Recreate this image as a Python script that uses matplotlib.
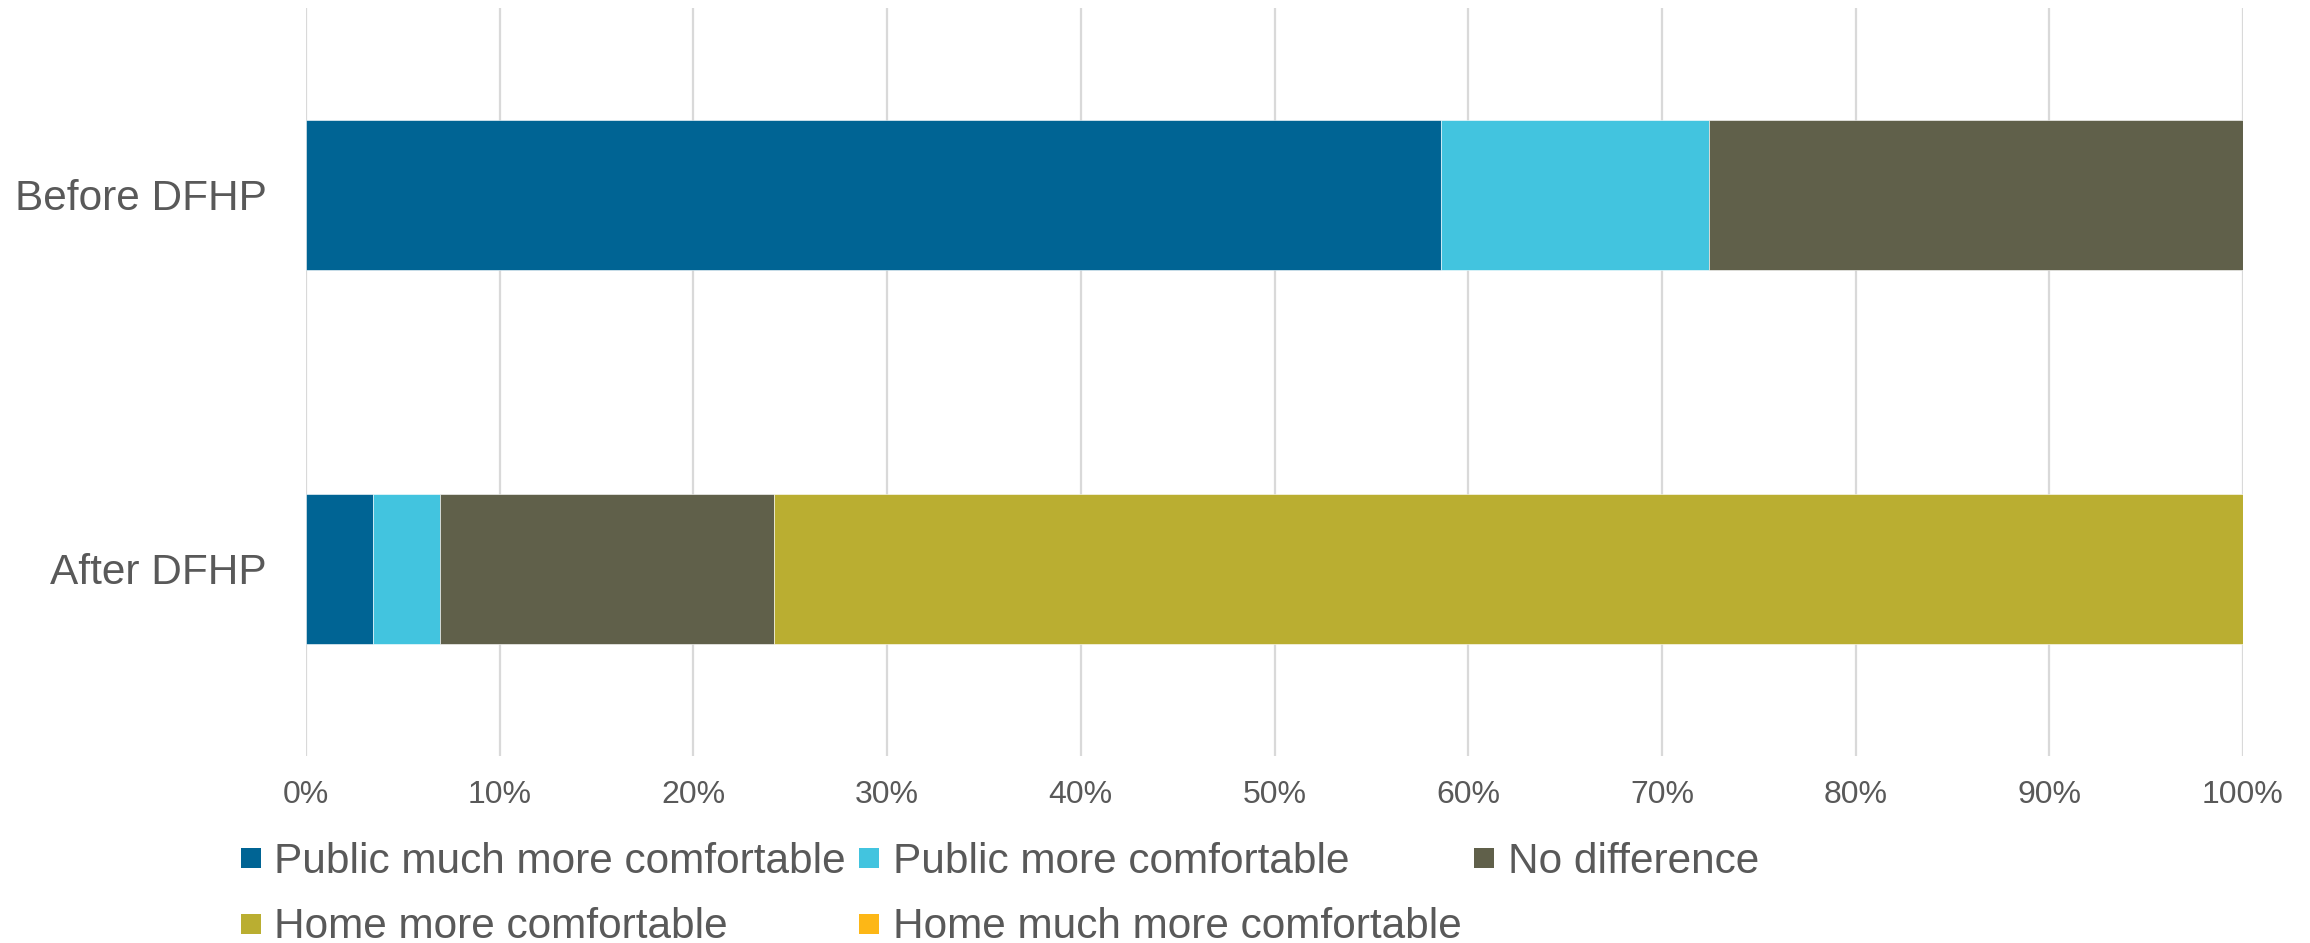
import matplotlib
matplotlib.use("Agg")
import matplotlib.pyplot as plt
from matplotlib.lines import Line2D

# share of respondents (n = 29), in %
categories = ["Before DFHP", "After DFHP"]
series_names = [
    "Public much more comfortable",
    "Public more comfortable",
    "No difference",
    "Home more comfortable",
    "Home much more comfortable",
]
public_much = [58.62, 3.45]
public_more = [13.79, 3.45]
no_diff = [27.59, 17.24]
home_more = [0.0, 75.86]
home_much = [0.0, 0.0]
x_ticks = [0, 10, 20, 30, 40, 50, 60, 70, 80, 90, 100]
x_tick_labels = [f"{t}%" for t in x_ticks]

colors = ["#006494", "#42C4DF", "#60604A", "#BAAE31", "#FDB716"]
TXT = "#595959"

plt.rcParams["font.family"] = ["Liberation Sans", "DejaVu Sans"]

fig = plt.figure(figsize=(23.1, 9.43), dpi=100)
ax = fig.add_axes([306 / 2310, 1 - 756 / 943, (2243 - 306) / 2310, 748 / 943])

ypos = list(range(len(categories)))
left = [0.0] * len(categories)
for vals, name, c in zip([public_much, public_more, no_diff, home_more, home_much],
                         series_names, colors):
    ax.barh(ypos, vals, left=left, height=0.4, color=c, label=name,
            edgecolor="white", linewidth=0.4, zorder=3)
    left = [a + b for a, b in zip(left, vals)]

ax.set_xlim(0, 100)
ax.set_ylim(1.5, -0.5)
ax.set_xticks(x_ticks)
ax.set_xticklabels(x_tick_labels)
ax.set_yticks(ypos)
ax.set_yticklabels(categories)
ax.tick_params(axis="x", length=0, pad=17, labelsize=23, labelcolor=TXT)
ax.tick_params(axis="y", length=0, pad=28, labelsize=30.5, labelcolor=TXT)
ax.grid(axis="x", color="#D9D9D9", linewidth=1.6, zorder=0)
for s in ax.spines.values():
    s.set_visible(False)

handles = [Line2D([], [], linestyle="none", marker="s", markersize=15,
                  markerfacecolor=c, markeredgewidth=0) for c in colors]
# legend fills column-wise; reorder so entries read row by row like the original
order = [0, 3, 1, 4, 2]
leg = fig.legend([handles[i] for i in order], [series_names[i] for i in order],
                 ncol=3, loc="upper left",
                 bbox_to_anchor=(240 / 2310, 1 - 842 / 943),
                 frameon=False, fontsize=30.5, borderpad=0, borderaxespad=0,
                 handlelength=0.5, handletextpad=0.31, columnspacing=0.29,
                 labelspacing=0.6)
for t in leg.get_texts():
    t.set_color(TXT)

fig.savefig("out.png", dpi=100)
